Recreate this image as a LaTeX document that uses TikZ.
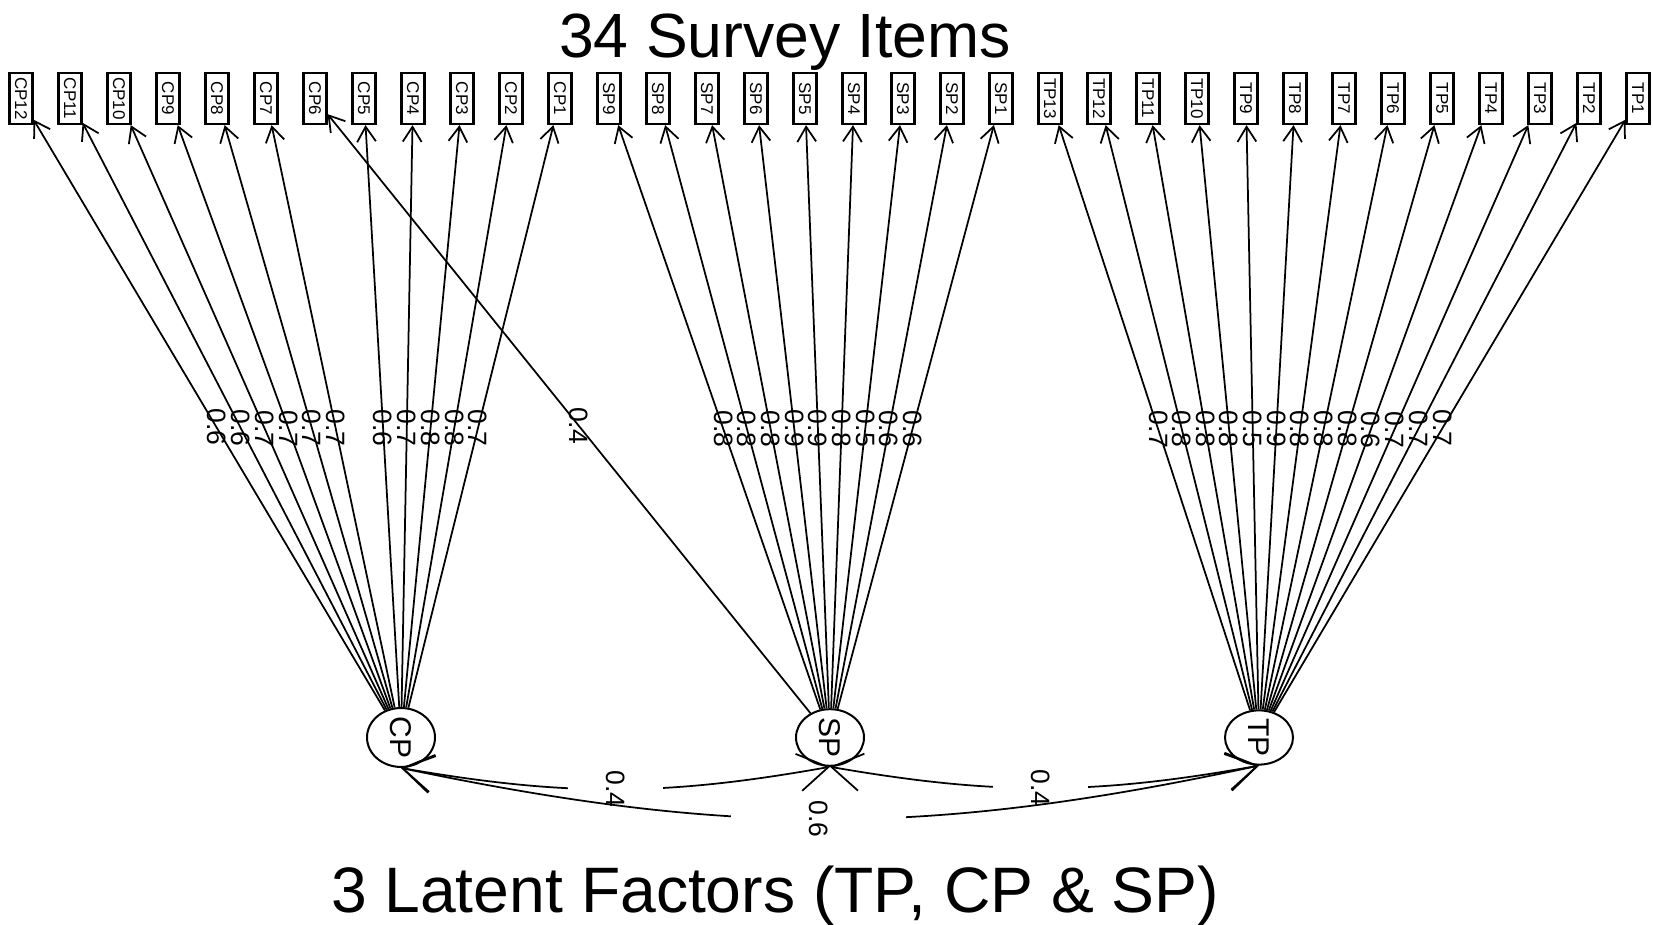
\documentclass[tikz,border=0pt]{standalone}
\usepackage{graphicx}
\usepackage{fontspec}
\setmainfont{Liberation Sans}
\usetikzlibrary{arrows.meta, shapes.geometric}

\begin{document}
\begin{tikzpicture}[x=0.4pt, y=0.4pt,
        item/.style={draw, line width=0.9pt, minimum width=9.2pt, minimum height=20.4pt, inner sep=0pt, font=\fontsize{6.8}{7}\selectfont},
        latent/.style={draw, ellipse, line width=0.8pt, minimum width=27.2pt, minimum height=19.6pt, inner sep=0pt, font=\fontsize{12}{14}\selectfont},
        load/.style={line width=0.7pt, -{Straight Barb[length=6pt, width=7.5pt]}},
        cov/.style={line width=0.7pt, {Straight Barb[length=12pt, width=15pt]}-{Straight Barb[length=12pt, width=15pt]}},
        est/.style={pos=0.48, rotate=-90, inner sep=0pt, font=\fontsize{10.6}{12}\selectfont},
        covest/.style={midway, rotate=-90, fill=white, inner sep=0pt, minimum height=38pt, font=\fontsize{10.6}{12}\selectfont}]
        \useasboundingbox (0,0) rectangle (1653,925);

        \node[anchor=base, font=\fontsize{25}{30}\selectfont] (top) at (785,867) {34 Survey Items};
        \node[anchor=base, font=\fontsize{25.7}{30}\selectfont] (bottom) at (775,12) {3 Latent Factors (TP, CP \& SP)};

        % survey items
        \foreach \name [count=\i from 0] in {CP12,CP11,CP10,CP9,CP8,CP7,CP6,CP5,CP4,CP3,CP2,CP1,
                SP9,SP8,SP7,SP6,SP5,SP4,SP3,SP2,SP1,
                TP13,TP12,TP11,TP10,TP9,TP8,TP7,TP6,TP5,TP4,TP3,TP2,TP1}
            \node[item] (\name) at ({21+49*\i}, 826.5) {\rotatebox{-90}{\name}};

        % latent factors
        \node[latent] (CP) at (401,187.5) {\rotatebox{-90}{CP}};
        \node[latent] (SP) at (830,187.5) {\rotatebox{-90}{SP}};
        \node[latent] (TP) at (1259,187.5) {\rotatebox{-90}{TP}};

        % loadings
        \foreach \name/\lat/\val in {CP12/CP/0.6, CP11/CP/0.6, CP10/CP/0.7, CP9/CP/0.7, CP8/CP/0.7, CP7/CP/0.7,
                CP6/SP/0.4, CP5/CP/0.6, CP4/CP/0.7, CP3/CP/0.8, CP2/CP/0.8, CP1/CP/0.7,
                SP9/SP/0.8, SP8/SP/0.8, SP7/SP/0.8, SP6/SP/0.9, SP5/SP/0.9, SP4/SP/0.8, SP3/SP/0.5, SP2/SP/0.6, SP1/SP/0.6,
                TP13/TP/0.7, TP12/TP/0.8, TP11/TP/0.8, TP10/TP/0.8, TP9/TP/0.5, TP8/TP/0.9, TP7/TP/0.8,
                TP6/TP/0.8, TP5/TP/0.8, TP4/TP/0.6, TP3/TP/0.7, TP2/TP/0.7, TP1/TP/0.7}
            \draw[load] (\lat) -- node[est] {\val} (\name);

        % covariances
        \draw[cov] (CP.south) to[bend right=10] node[covest] {0.4} (SP.south);
        \draw[cov] (SP.south) to[bend right=10] node[covest, pos=0.49] {0.4} (TP.south);
        \draw[cov] (CP.south) to[bend right=12] node[covest, pos=0.485, minimum height=70pt] {0.6} (TP.south);
\end{tikzpicture}
\end{document}
